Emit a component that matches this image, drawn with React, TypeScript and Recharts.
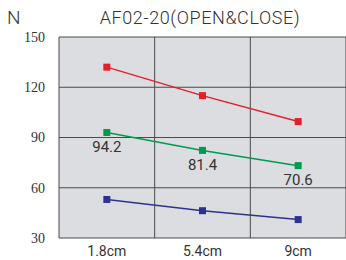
import React from 'react';
import { LineChart, Line, XAxis, YAxis, CartesianGrid, LabelList } from 'recharts';

const categories = ['1.8cm', '5.4cm', '9cm'];
const redValues = [132, 115, 99.5];
const greenValues = [93, 82.3, 73.2];
const greenLabels = ['94.2', '81.4', '70.6'];
const blueValues = [53, 46.3, 41];
const yTicks = [30, 60, 90, 120, 150];

const data = categories.map((name, i) => ({
  name,
  pos: i + 0.5,
  red: redValues[i],
  green: greenValues[i],
  greenLabel: greenLabels[i],
  blue: blueValues[i],
}));

const RED = '#e3202a';
const GREEN = '#009a4e';
const BLUE = '#2e3192';

const squareDot = (color: string) => (props: any) => {
  const { cx, cy, index } = props;
  if (cx == null || cy == null) return <g key={index} />;
  return <rect key={index} x={cx - 3.5} y={cy - 3.5} width={7} height={7} fill={color} />;
};

export default function App() {
  return (
    <div style={{ position: 'absolute', left: 0, top: 0, width: 346, height: 260, background: '#fff', fontFamily: 'Roboto, sans-serif' }}>
      <div style={{ position: 'absolute', left: 7, top: 7, fontSize: 19, fontWeight: 300, color: '#333', lineHeight: '22px' }}>N</div>
      <div style={{ position: 'absolute', left: 0, width: 400, top: 7, textAlign: 'center', fontSize: 18, fontWeight: 300, letterSpacing: 0.6, color: '#333', lineHeight: '22px' }}>
        AF02-20(OPEN&amp;CLOSE)
      </div>
      <LineChart width={346} height={260} data={data} margin={{ top: 37, right: 0, left: 0, bottom: 0 }}>
        <CartesianGrid xAxisId="grid" fill="#dcdde0" stroke="#4a4a4a" strokeWidth={1} />
        <XAxis
          dataKey="name"
          scale="band"
          tickLine={false}
          axisLine={false}
          tickSize={0}
          tickMargin={8}
          height={22}
          tick={{ fill: '#333', fontSize: 14, fontFamily: 'Roboto' }}
        />
        <XAxis xAxisId="grid" type="number" dataKey="pos" domain={[0, 3]} ticks={[0, 1, 2, 3]} hide />
        <YAxis
          width={59}
          domain={[30, 150]}
          ticks={yTicks}
          tickLine={false}
          axisLine={false}
          tickSize={0}
          tickMargin={14}
          tick={{ fill: '#333', fontSize: 14, fontFamily: 'Liberation Sans Narrow' }}
        />
        <Line dataKey="red" stroke={RED} strokeWidth={1.5} dot={squareDot(RED)} isAnimationActive={false} />
        <Line dataKey="green" stroke={GREEN} strokeWidth={1.5} dot={squareDot(GREEN)} isAnimationActive={false}>
          <LabelList dataKey="greenLabel" position="bottom" offset={9} fill="#333" fontSize={15} fontFamily="Roboto" />
        </Line>
        <Line dataKey="blue" stroke={BLUE} strokeWidth={1.5} dot={squareDot(BLUE)} isAnimationActive={false} />
      </LineChart>
    </div>
  );
}
